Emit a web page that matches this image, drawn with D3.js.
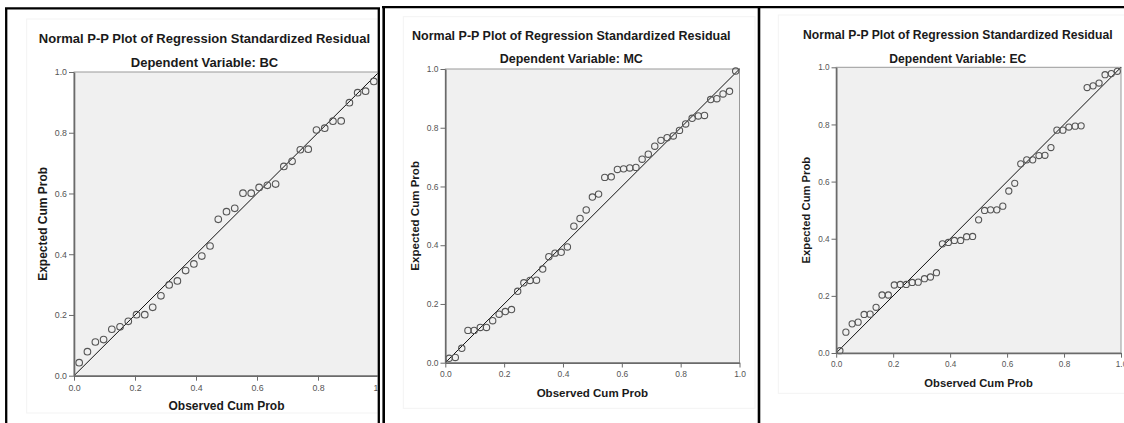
<!DOCTYPE html>
<html><head><meta charset="utf-8">
<script src="https://cdn.jsdelivr.net/npm/d3@7"></script>
<style>
body{margin:0;background:#fff;}
svg{display:block;font-family:"Liberation Sans",Arial,Helvetica,sans-serif;}
</style>
</head><body>
<svg id="chart" width="1124" height="423"></svg>
<script>
// ---------- data ----------
const chartTitle = "Normal P-P Plot of Regression Standardized Residual";
const subtitlePrefix = "Dependent Variable: ";
const dependentVars = ["BC", "MC", "EC"];
const xAxisTitle = "Observed Cum Prob";
const yAxisTitle = "Expected Cum Prob";
const tickValues = [0.0, 0.2, 0.4, 0.6, 0.8, 1.0];
const diagonal = [0, 1];

const observedBC = [0.017,0.044,0.070,0.097,0.124,0.151,0.178,0.205,0.232,0.258,0.285,0.312,0.339,0.366,0.393,0.419,0.446,0.473,0.500,0.527,0.554,0.581,0.607,0.634,0.661,0.688,0.715,0.742,0.768,0.795,0.822,0.849,0.876,0.903,0.930,0.956,0.983];
const expectedBC = [0.043,0.079,0.111,0.119,0.153,0.161,0.179,0.201,0.201,0.225,0.263,0.299,0.312,0.346,0.368,0.394,0.427,0.515,0.540,0.551,0.601,0.601,0.620,0.627,0.631,0.689,0.706,0.744,0.746,0.809,0.815,0.838,0.839,0.899,0.932,0.937,0.969];

const observedMC = [0.013,0.034,0.056,0.077,0.098,0.119,0.140,0.161,0.183,0.204,0.225,0.246,0.267,0.288,0.310,0.331,0.352,0.373,0.394,0.415,0.437,0.458,0.479,0.500,0.521,0.542,0.564,0.585,0.606,0.627,0.648,0.669,0.690,0.712,0.733,0.754,0.775,0.796,0.817,0.839,0.860,0.881,0.902,0.923,0.944,0.966,0.987];
const expectedMC = [0.015,0.018,0.049,0.110,0.110,0.120,0.120,0.143,0.165,0.174,0.181,0.243,0.272,0.280,0.281,0.319,0.361,0.373,0.376,0.394,0.465,0.491,0.520,0.564,0.574,0.631,0.633,0.658,0.660,0.663,0.665,0.693,0.710,0.737,0.757,0.766,0.772,0.791,0.813,0.832,0.840,0.842,0.896,0.899,0.915,0.924,0.993];

const observedEC = [0.013,0.034,0.056,0.077,0.098,0.119,0.140,0.161,0.183,0.204,0.225,0.246,0.267,0.288,0.310,0.331,0.352,0.373,0.394,0.415,0.437,0.458,0.479,0.500,0.521,0.542,0.564,0.585,0.606,0.627,0.648,0.669,0.690,0.712,0.733,0.754,0.775,0.796,0.817,0.839,0.860,0.881,0.902,0.923,0.944,0.966,0.987];
const expectedEC = [0.008,0.073,0.102,0.108,0.135,0.136,0.160,0.203,0.203,0.238,0.240,0.240,0.247,0.248,0.260,0.266,0.281,0.382,0.387,0.394,0.394,0.407,0.408,0.466,0.499,0.501,0.501,0.514,0.567,0.594,0.662,0.676,0.676,0.691,0.692,0.719,0.780,0.780,0.791,0.794,0.795,0.929,0.935,0.945,0.974,0.978,0.986];

const seriesObserved = [observedBC, observedMC, observedEC];
const seriesExpected = [expectedBC, expectedMC, expectedEC];

// ---------- layout ----------
const panels = [
  {px0:74, px1:379, py0:375.7, py1:72, s:1.0, titleX:204.5, titleY:42.5, subY:66.5, xlabY:410, ylabX:46.7,
   frame:[26.7,19,400,394], clip:[0,0,377.6,423]},
  {px0:445.3, px1:739.5, py0:362.7, py1:69, s:0.962, titleX:571.3, titleY:39.5, subY:63.3, xlabY:397.3, ylabX:419.3,
   frame:[403.3,16.7,351.7,391.6], clip:[383,0,376,423]},
  {px0:836.2, px1:1121, py0:353, py1:67.3, s:0.935, titleX:957.8, titleY:39.3, subY:62.7, xlabY:386.7, ylabX:810,
   frame:[778.3,15,400,378.3], clip:[760,0,364,423]}
];

const svg = d3.select("#chart");
svg.append("rect").attr("width",1124).attr("height",423).attr("fill","#fff");
const defs = svg.append("defs");

panels.forEach((p, k) => {
  defs.append("clipPath").attr("id","clip"+k).append("rect")
    .attr("x",p.clip[0]).attr("y",p.clip[1]).attr("width",p.clip[2]).attr("height",p.clip[3]);
  const g = svg.append("g").attr("clip-path","url(#clip"+k+")");

  // faint chart frame
  g.append("rect").attr("x",p.frame[0]).attr("y",p.frame[1]).attr("width",p.frame[2]).attr("height",p.frame[3])
    .attr("fill","none").attr("stroke","#f3f3f3").attr("stroke-width",1);

  const x = d3.scaleLinear().domain([0,1]).range([p.px0,p.px1]);
  const y = d3.scaleLinear().domain([0,1]).range([p.py0,p.py1]);
  const s = p.s;

  // plot background
  g.append("rect").attr("x",p.px0).attr("y",p.py1).attr("width",p.px1-p.px0).attr("height",p.py0-p.py1)
    .attr("fill","#f0f0f0").attr("stroke","#9a9a9a").attr("stroke-width",1);

  // diagonal reference line
  g.append("line")
    .attr("x1",x(diagonal[0])).attr("y1",y(diagonal[0]))
    .attr("x2",x(diagonal[1])).attr("y2",y(diagonal[1]))
    .attr("stroke","#111").attr("stroke-width",1);

  // points
  const obs = seriesObserved[k], exp = seriesExpected[k];
  g.append("g").selectAll("circle").data(obs.map((o,i)=>({o, e:exp[i]}))).join("circle")
    .attr("cx",d=>x(d.o)).attr("cy",d=>y(d.e)).attr("r",3.3*s)
    .attr("fill","none").attr("stroke","#555").attr("stroke-width",1.1);

  // axes
  const fmt = d3.format(".1f");
  const ax = g.append("g").attr("transform",`translate(0,${p.py0})`)
    .call(d3.axisBottom(x).tickValues(tickValues).tickFormat(fmt).tickSizeInner(5*s).tickSizeOuter(0).tickPadding(4*s));
  const ay = g.append("g").attr("transform",`translate(${p.px0},0)`)
    .call(d3.axisLeft(y).tickValues(tickValues).tickFormat(fmt).tickSizeInner(5*s).tickSizeOuter(0).tickPadding(2*s));
  [ax, ay].forEach(a => {
    a.select(".domain").attr("stroke","#6a6a6a").attr("stroke-width",1.6);
    a.selectAll(".tick line").attr("stroke","#6a6a6a").attr("stroke-width",1);
    a.selectAll(".tick text").attr("fill","#555").style("font-size",(8.8*s)+"px")
      .style("font-family",'"Liberation Sans",Arial,sans-serif');
  });

  // titles
  g.append("text").attr("x",p.titleX).attr("y",p.titleY).attr("text-anchor","middle")
    .style("font-size",(13*s)+"px").style("font-weight","bold").attr("fill","#1a1a1a").text(chartTitle);
  g.append("text").attr("x",p.titleX).attr("y",p.subY).attr("text-anchor","middle")
    .style("font-size",(13*s)+"px").style("font-weight","bold").attr("fill","#1a1a1a")
    .text(subtitlePrefix + dependentVars[k]);
  g.append("text").attr("x",(p.px0+p.px1)/2).attr("y",p.xlabY).attr("text-anchor","middle")
    .style("font-size",(12*s)+"px").style("font-weight","bold").attr("fill","#1a1a1a").text(xAxisTitle);
  g.append("text").attr("transform",`translate(${p.ylabX},${(p.py0+p.py1)/2}) rotate(-90)`)
    .attr("text-anchor","middle")
    .style("font-size",(12*s)+"px").style("font-weight","bold").attr("fill","#1a1a1a").text(yAxisTitle);
});

// black page borders
const borders = svg.append("g").attr("stroke","#000").attr("fill","none");
borders.append("line").attr("x1",6.2).attr("y1",8.3).attr("x2",6.2).attr("y2",423).attr("stroke-width",2.3);
borders.append("line").attr("x1",5).attr("y1",8.3).attr("x2",380).attr("y2",8.3).attr("stroke-width",2.2);
borders.append("line").attr("x1",378.8).attr("y1",8.3).attr("x2",378.8).attr("y2",423).attr("stroke-width",2.3);
borders.append("line").attr("x1",382).attr("y1",7.2).attr("x2",1124).attr("y2",7.2).attr("stroke-width",2.3);
borders.append("line").attr("x1",383.7).attr("y1",7.2).attr("x2",383.7).attr("y2",423).attr("stroke-width",2.6);
borders.append("line").attr("x1",759).attr("y1",7.2).attr("x2",759).attr("y2",423).attr("stroke-width",2.6);
</script>
</body></html>
